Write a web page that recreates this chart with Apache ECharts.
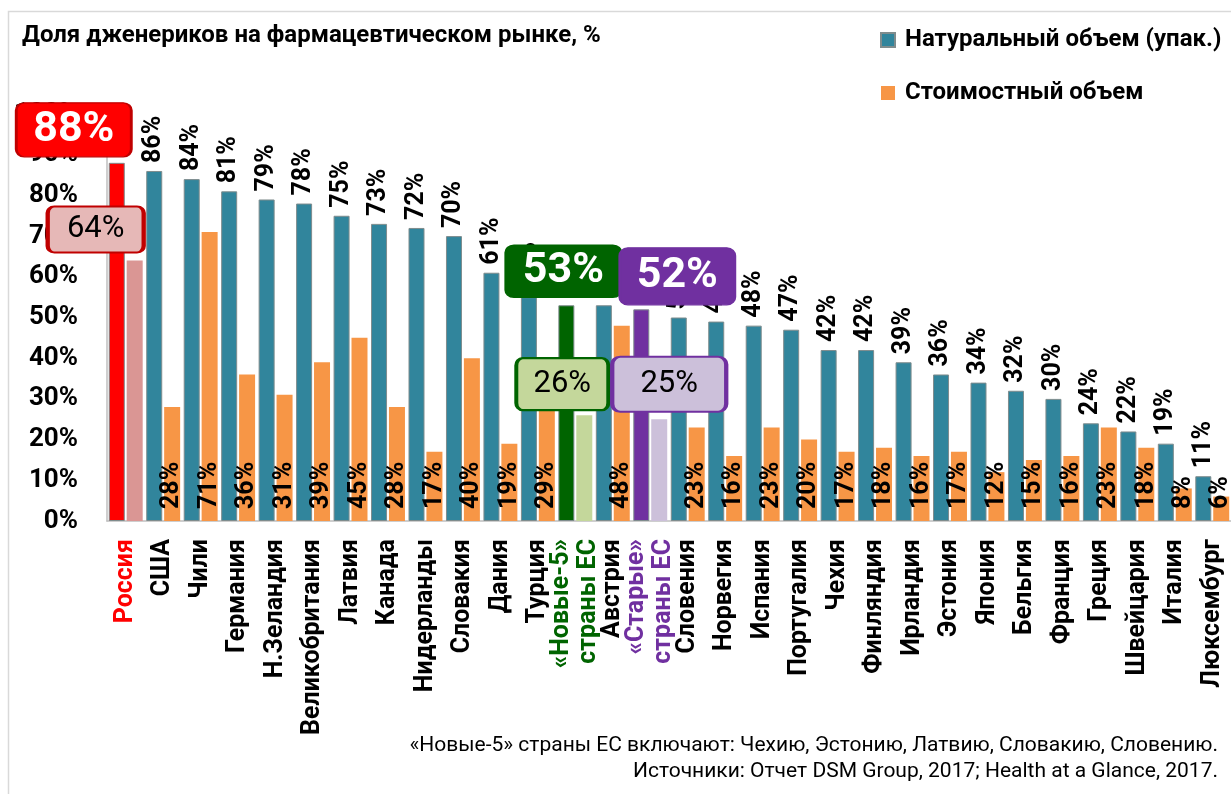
<!DOCTYPE html>
<html>
<head>
<meta charset="utf-8">
<script src="https://cdn.jsdelivr.net/npm/echarts@6/dist/echarts.min.js"></script>
<style>html,body{margin:0;padding:0;background:#fff;}#c{width:1231px;height:794px;}</style>
</head>
<body>
<div id="c"></div>
<script>
var categories = ['Россия','США','Чили','Германия','Н.Зеландия','Великобритания','Латвия','Канада','Нидерланды','Словакия','Дания','Турция','«Новые-5»\nстраны ЕС','Австрия','«Старые»\nстраны ЕС','Словения','Норвегия','Испания','Португалия','Чехия','Финляндия','Ирландия','Эстония','Япония','Бельгия','Франция','Греция','Швейцария','Италия','Люксембург'];
var naturalVolume = [88,86,84,81,79,78,75,73,72,70,61,55,53,53,52,50,49,48,47,42,42,39,36,34,32,30,24,22,19,11];
var valueVolume = [64,28,71,36,31,39,45,28,17,40,19,29,26,48,25,23,16,23,20,17,18,16,17,12,15,16,23,18,8,6];
var yTicks = [0,10,20,30,40,50,60,70,80,90,100];
var footnotes = ['«Новые-5» страны ЕС включают: Чехию, Эстонию, Латвию, Словакию, Словению.','Источники: Отчет DSM Group, 2017; Health at a Glance, 2017.'];

var FONT = 'Roboto, "Open Sans", "DejaVu Sans", sans-serif';
var TEAL = '#31859C', ORANGE = '#F79646';
var highlight = {
  0: {main:'#FF0000', light:'#DA9694', border:'#C00000', txt:'#FF0000', lightBox:'#E6B8B7'},
  12:{main:'#006400', light:'#C4D79B', border:'#006400', txt:'#006400', lightBox:'#C4D79B'},
  14:{main:'#7030A0', light:'#CCC0DA', border:'#7030A0', txt:'#7030A0', lightBox:'#CCC0DA'}
};
var boxPath = 'path://M7,0H93A7,7 0 0 1 100,7V43A7,7 0 0 1 93,50H7A7,7 0 0 1 0,43V7A7,7 0 0 1 7,0Z';

var catData = categories.map(function(c,i){
  var o = {value:c};
  if (highlight[i]) o.textStyle = {color: highlight[i].txt};
  return o;
});
var s1 = naturalVolume.map(function(v,i){
  var o = {value:v};
  if (highlight[i]) { o.itemStyle = {color: highlight[i].main}; o.label = {show:false}; }
  return o;
});
var s2 = valueVolume.map(function(v,i){
  var o = {value:v};
  if (highlight[i]) { o.itemStyle = {color: highlight[i].light}; o.label = {show:false}; }
  return o;
});

function bigBox(i, arr, offset, h){
  var hl = highlight[i];
  return {coord:[categories[i], arr[i]], value: arr[i] + '%', symbol: boxPath, symbolSize:[115,h], symbolOffset: offset,
    itemStyle:{color:hl.main, borderColor: i===0 ? '#C00000' : hl.main, borderWidth:2},
    label:{show:true, color:'#fff', fontSize:43, fontWeight:'bold', fontFamily:FONT, formatter:'{c}'}};
}
function smallBox(i, arr, offset, w, h){
  var hl = highlight[i];
  return {coord:[categories[i], arr[i]], value: arr[i] + '%', symbol: boxPath, symbolSize:[w,h], symbolOffset: offset,
    itemStyle:{color:hl.lightBox, borderColor:hl.border, borderWidth:3},
    label:{show:true, color:'#000', fontSize:31, fontWeight:'normal', fontFamily:FONT, formatter:'{c}'}};
}

var chart = echarts.init(document.getElementById('c'), null, {renderer:'canvas'});
chart.setOption({
  backgroundColor:'#fff',
  animation:false,
  textStyle:{fontFamily:FONT},
  title:{text:'Доля дженериков на фармацевтическом рынке, %', left:17, top:19,
    textStyle:{fontSize:24, fontWeight:'bold', color:'#000', fontFamily:FONT}},
  legend:{orient:'vertical', left:880, top:28, padding:0, itemWidth:14, itemHeight:14, itemGap:29, icon:'rect',
    textStyle:{fontSize:24, fontWeight:'bold', color:'#000', fontFamily:FONT, lineHeight:24, padding:[0,0,0,5]},
    data:['Натуральный объем (упак.)','Стоимостный объем']},
  grid:{left:107, top:114, width:1128, bottom:273, containLabel:false},
  xAxis:{type:'category', data:catData,
    axisLine:{show:true, lineStyle:{color:'#bfbfbf', width:1.5}},
    axisTick:{show:false},
    axisLabel:{interval:0, rotate:90, margin:18, fontSize:25, fontWeight:'bold', color:'#000', fontFamily:FONT, lineHeight:27}},
  yAxis:{type:'value', min:yTicks[0], max:yTicks[yTicks.length-1], interval:yTicks[1]-yTicks[0],
    axisLine:{show:true, lineStyle:{color:'#bfbfbf', width:1.5}},
    axisTick:{show:false}, splitLine:{show:false},
    axisLabel:{formatter:'{value}%', fontSize:26, fontWeight:'bold', color:'#000', margin:29, fontFamily:FONT}},
  graphic:[
    {type:'rect', shape:{x:8.5, y:11.5, width:1240, height:800}, style:{fill:'none', stroke:'#d9d9d9', lineWidth:1.5}, silent:true, z:-10},
    {type:'text', right:13, top:735, style:{text:footnotes[0], fontSize:21, fill:'#000', fontFamily:FONT, textAlign:'right'}},
    {type:'text', right:13, top:761, style:{text:footnotes[1], fontSize:21, fill:'#000', fontFamily:FONT, textAlign:'right'}}
  ],
  series:[
    {name:'Натуральный объем (упак.)', type:'bar', data:s1, barWidth:16, barGap:'12%',
      itemStyle:{color:TEAL, borderColor:'#7f8c8d', borderWidth:1},
      label:{show:true, position:'top', rotate:90, align:'left', verticalAlign:'middle', distance:8,
        formatter:'{c}%', fontSize:25, fontWeight:'bold', color:'#000', fontFamily:FONT},
      markPoint:{z:10, silent:true, data:[
        bigBox(0, naturalVolume, [-43,-33], 54),
        bigBox(12, naturalVolume, [-3,-34], 52),
        bigBox(14, naturalVolume, [36,-33], 57)
      ]}},
    {name:'Стоимостный объем', type:'bar', data:s2, barWidth:16,
      itemStyle:{color:ORANGE},
      label:{show:true, position:'insideBottom', rotate:90, align:'left', verticalAlign:'middle', distance:12,
        formatter:'{c}%', fontSize:25, fontWeight:'bold', color:'#000', fontFamily:FONT},
      labelLayout:{hideOverlap:false},
      markPoint:{z:10, silent:true, data:[
        smallBox(0, valueVolume, [-39,-31], 96, 46),
        smallBox(12, valueVolume, [-22,-31], 92, 52),
        smallBox(14, valueVolume, [10,-35], 114, 55)
      ]}}
  ]
});
</script>
</body>
</html>
